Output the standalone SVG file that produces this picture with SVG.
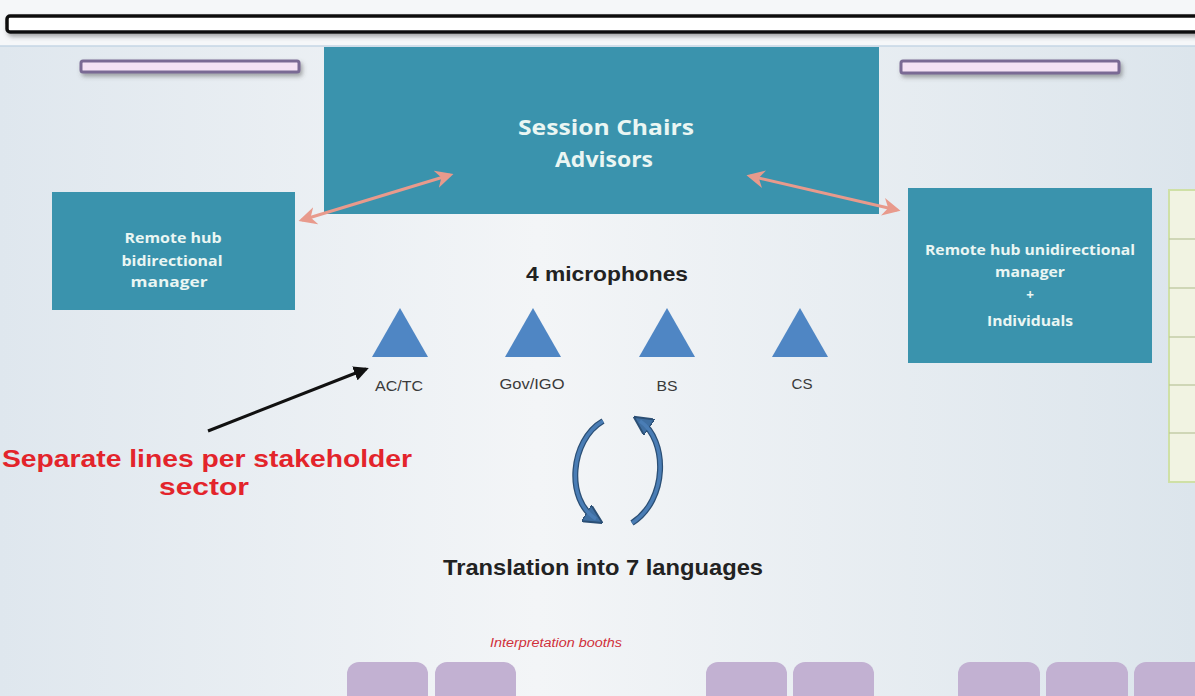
<svg xmlns="http://www.w3.org/2000/svg" width="1195" height="696" viewBox="0 0 1195 696">
<defs>
<linearGradient id="bg" x1="0" y1="0" x2="1" y2="0">
<stop offset="0" stop-color="#dfe7ee"/>
<stop offset="0.45" stop-color="#f3f5f7"/>
<stop offset="1" stop-color="#dce5ec"/>
</linearGradient>
<marker id="salmon" viewBox="0 0 10 10" refX="8" refY="5" markerWidth="6" markerHeight="6" orient="auto-start-reverse">
<path d="M0,0 L10,5 L0,10 L3,5 z" fill="#e89a8c"/>
</marker>
<marker id="blk" viewBox="0 0 10 10" refX="8" refY="5" markerWidth="5" markerHeight="5" orient="auto">
<path d="M0,0 L10,5 L0,10 z" fill="#111"/>
</marker>
<marker id="blue" viewBox="0 0 10 10" refX="6" refY="5" markerWidth="3.2" markerHeight="3.2" orient="auto">
<path d="M0,0 L10,5 L0,10 z" fill="#3f6fa2" stroke="#2b4f75" stroke-width="1"/>
</marker>
<filter id="sh" x="-10%" y="-50%" width="120%" height="250%">
<feDropShadow dx="2" dy="3" stdDeviation="2" flood-color="#555" flood-opacity="0.5"/>
</filter>
</defs>
<style>
.teal{fill:#3a93ad}
.wt{font-family:"Open Sans",Lato,sans-serif;font-weight:bold;fill:#eaf6f3;text-anchor:middle}
.lbl{font-family:"Liberation Sans",Arial,sans-serif;font-size:14px;fill:#3a3a3a;text-anchor:middle}
.hd{font-family:"Liberation Sans",Arial,sans-serif;font-weight:bold;fill:#222;text-anchor:middle}
.red{font-family:"Liberation Sans",Arial,sans-serif;font-size:24px;font-weight:bold;fill:#e3242b;text-anchor:middle}
.tri{fill:#4f86c4}
.booth{fill:#c2b1d2}
.pbar{fill:#f4e2f4;stroke:#7a6a94;stroke-width:3}
.sal{stroke:#e89a8c;stroke-width:3;fill:none}
</style>
<rect width="1195" height="696" fill="#f5f7f9"/>
<rect x="0" y="46" width="1195" height="650" fill="url(#bg)"/>
<line x1="0" y1="46" x2="1195" y2="46" stroke="#c5d6e4" stroke-width="1.5"/>
<rect x="7" y="16" width="1200" height="16" rx="3" fill="#ffffff" stroke="#111" stroke-width="3.5" filter="url(#sh)"/>
<g id="bar-left"><rect class="pbar" x="81" y="61" width="218" height="11" rx="2" filter="url(#sh)"/></g>
<g id="bar-right"><rect class="pbar" x="901" y="61" width="218" height="12" rx="2" filter="url(#sh)"/></g>
<g id="session-chairs">
<rect class="teal" x="324" y="47" width="555" height="167"/>
<text class="wt" x="606" y="135" font-size="21" textLength="176" lengthAdjust="spacingAndGlyphs">Session Chairs</text>
<text class="wt" x="604" y="167" font-size="21" textLength="98" lengthAdjust="spacingAndGlyphs">Advisors</text>
</g>
<g id="remote-bi">
<rect class="teal" x="52" y="192" width="243" height="118"/>
<text class="wt" x="173" y="243" font-size="14" textLength="97" lengthAdjust="spacingAndGlyphs">Remote hub</text>
<text class="wt" x="172" y="266" font-size="14" textLength="101" lengthAdjust="spacingAndGlyphs">bidirectional</text>
<text class="wt" x="169" y="287" font-size="14" textLength="77" lengthAdjust="spacingAndGlyphs">manager</text>
</g>
<g id="remote-uni">
<rect class="teal" x="908" y="188" width="244" height="175"/>
<text class="wt" x="1030" y="255" font-size="13.5" textLength="210" lengthAdjust="spacingAndGlyphs">Remote hub unidirectional</text>
<text class="wt" x="1030" y="277" font-size="13.5" textLength="70" lengthAdjust="spacingAndGlyphs">manager</text>
<text class="wt" x="1030" y="300" font-size="13.5">+</text>
<text class="wt" x="1030" y="326" font-size="13.5" textLength="86" lengthAdjust="spacingAndGlyphs">Individuals</text>
</g>
<g id="side-strip">
<rect x="1169" y="190" width="30" height="292" fill="#f1f3e2" stroke="#cfe0a6" stroke-width="2"/>
<g stroke="#b9c49a" stroke-width="1.2">
<line x1="1169" y1="239" x2="1195" y2="239"/>
<line x1="1169" y1="288" x2="1195" y2="288"/>
<line x1="1169" y1="337" x2="1195" y2="337"/>
<line x1="1169" y1="385" x2="1195" y2="385"/>
<line x1="1169" y1="433" x2="1195" y2="433"/>
</g>
</g>
<text class="hd" x="607" y="281" font-size="21" textLength="162" lengthAdjust="spacingAndGlyphs">4 microphones</text>
<g id="mic-actc"><polygon class="tri" points="400,308 428,357 372,357"/><text class="lbl" x="399" y="391" textLength="48" lengthAdjust="spacingAndGlyphs">AC/TC</text></g>
<g id="mic-gov"><polygon class="tri" points="533,308 561,357 505,357"/><text class="lbl" x="532" y="389" textLength="65" lengthAdjust="spacingAndGlyphs">Gov/IGO</text></g>
<g id="mic-bs"><polygon class="tri" points="667,308 695,357 639,357"/><text class="lbl" x="667" y="391" textLength="21" lengthAdjust="spacingAndGlyphs">BS</text></g>
<g id="mic-cs"><polygon class="tri" points="800,308 828,357 772,357"/><text class="lbl" x="802" y="389" textLength="21" lengthAdjust="spacingAndGlyphs">CS</text></g>
<g id="cycle">
<path d="M603,421 C570,440 565,500 596,519" fill="none" stroke="#2b4f75" stroke-width="6" marker-end="url(#blue)"/>
<path d="M603,421 C570,440 565,500 596,519" fill="none" stroke="#4a7db5" stroke-width="3.5"/>
<path d="M632,523 C668,500 668,440 640,421" fill="none" stroke="#2b4f75" stroke-width="6" marker-end="url(#blue)"/>
<path d="M632,523 C668,500 668,440 640,421" fill="none" stroke="#4a7db5" stroke-width="3.5"/>
</g>
<text class="hd" x="603" y="575" font-size="22" textLength="320" lengthAdjust="spacingAndGlyphs">Translation into 7 languages</text>
<g id="note">
<text class="red" x="207" y="467" textLength="410" lengthAdjust="spacingAndGlyphs">Separate lines per stakeholder</text>
<text class="red" x="204" y="495" textLength="90" lengthAdjust="spacingAndGlyphs">sector</text>
</g>
<text x="556" y="647" font-family="'Liberation Sans',Arial,sans-serif" font-size="12.5" font-style="italic" fill="#d0303a" text-anchor="middle" textLength="132" lengthAdjust="spacingAndGlyphs">Interpretation booths</text>
<g id="booths">
<rect class="booth" x="347" y="662" width="81" height="50" rx="12"/>
<rect class="booth" x="435" y="662" width="81" height="50" rx="12"/>
<rect class="booth" x="706" y="662" width="81" height="50" rx="12"/>
<rect class="booth" x="793" y="662" width="81" height="50" rx="12"/>
<rect class="booth" x="958" y="662" width="82" height="50" rx="12"/>
<rect class="booth" x="1046" y="662" width="82" height="50" rx="12"/>
<rect class="booth" x="1134" y="662" width="82" height="50" rx="12"/>
</g>
<g id="connectors">
<line class="sal" x1="302" y1="220" x2="450" y2="175" marker-start="url(#salmon)" marker-end="url(#salmon)"/>
<line class="sal" x1="750" y1="176" x2="897" y2="210" marker-start="url(#salmon)" marker-end="url(#salmon)"/>
<line x1="208" y1="431" x2="366" y2="369" stroke="#111" stroke-width="3" marker-end="url(#blk)"/>
</g>
</svg>
